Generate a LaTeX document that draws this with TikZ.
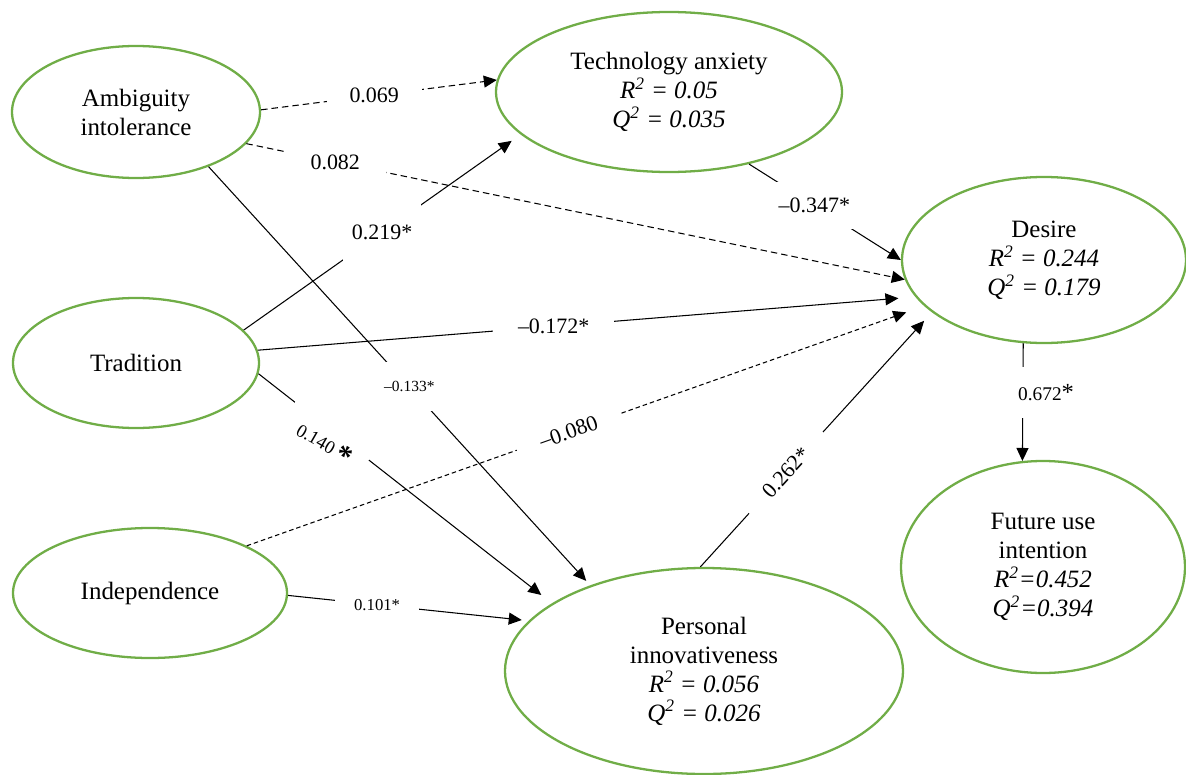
\documentclass[tikz,border=0pt]{standalone}
\usepackage{fontspec}
\setmainfont{Liberation Serif}
\usepackage{tikz}
\usetikzlibrary{shapes.geometric, arrows.meta}
\definecolor{SEMGreen}{RGB}{112,173,71}

\begin{document}
\begin{tikzpicture}[
    latent/.style={ellipse, draw=SEMGreen, line width=1.3pt, inner sep=0pt,
                   align=center, font=\fontsize{14.2}{16.5}\selectfont},
    arr/.style={-{Triangle[length=0.26cm, width=0.24cm]}, line width=0.6pt},
    ns/.style={arr, dash pattern=on 0.13cm off 0.08cm},
    lbl/.style={fill=white, inner xsep=3pt, inner ysep=3pt,
                font=\fontsize{12.5}{14}\selectfont},
    slbl/.style={lbl, font=\fontsize{9.5}{11}\selectfont}
  ]
  \useasboundingbox (0,0) rectangle (23.72,-15.5);

  % exogenous constructs
  \node[latent, minimum width=4.96cm, minimum height=2.64cm] (amb)   at (2.72,-2.24)  {Ambiguity\\intolerance};
  \node[latent, minimum width=4.92cm, minimum height=2.6cm]  (trad)  at (2.72,-7.26)  {Tradition};
  \node[latent, minimum width=5.48cm, minimum height=2.6cm]  (indep) at (3.0,-11.86)  {Independence};

  % endogenous constructs
  \node[latent, minimum width=6.92cm, minimum height=3.2cm]  (tech)   at (13.38,-1.84) {Technology anxiety\\{\itshape R\textsuperscript{2} = 0.05}\\{\itshape Q\textsuperscript{2} = 0.035}};
  \node[latent, minimum width=5.68cm, minimum height=3.32cm] (desire) at (20.88,-5.2)  {Desire\\{\itshape R\textsuperscript{2} = 0.244}\\{\itshape Q\textsuperscript{2} = 0.179}};
  \node[latent, minimum width=7.96cm, minimum height=4.12cm] (pi)     at (14.08,-13.42) {Personal\\innovativeness\\{\itshape R\textsuperscript{2} = 0.056}\\{\itshape Q\textsuperscript{2} = 0.026}};
  \node[latent, minimum width=5.68cm, minimum height=4.24cm] (future) at (20.86,-11.34) {Future use\\intention\\{\itshape R\textsuperscript{2}=0.452}\\{\itshape Q\textsuperscript{2}=0.394}};

  % paths from ambiguity intolerance
  \draw[ns] (amb.1) -- node[lbl, pos=0.48, inner xsep=13pt] {0.069} (tech.176);
  \draw[ns] (amb.-16) -- node[lbl, pos=0.135, inner xsep=15pt] {0.082} (desire.188);
  \draw[arr, shorten >=0.12cm] (amb.-37) -- node[slbl, pos=0.526, inner xsep=1pt, inner ysep=11pt, font=\fontsize{8.8}{10}\selectfont] {--0.133*} (pi.143);

  % paths from tradition
  \draw[arr, shorten >=0.22cm] (trad.17) -- node[lbl, pos=0.5, inner xsep=5pt, inner ysep=12pt] {0.219*} (tech.196);
  \draw[arr, shorten >=0.34cm] (trad.6) -- node[lbl, pos=0.45, inner xsep=14pt] {--0.172*} (desire.196);
  \draw[arr, shorten >=0.27cm] (trad.-5) -- node[slbl, pos=0.25, rotate=-30, yshift=-0.3cm, inner xsep=9pt, inner ysep=10pt, font=\fontsize{10.5}{12}\selectfont] {0.140 \raisebox{-0.45ex}{\fontsize{17}{17}\selectfont\textbf{*}}} (pi.156);

  % paths from independence
  \draw[ns, dash pattern=on 0.09cm off 0.06cm, shorten >=0.38cm] (indep.26) -- node[lbl, pos=0.475, sloped, inner xsep=14pt, inner ysep=2pt] {--0.080} (desire.201);
  \draw[arr, shorten >=0.14cm] (indep.-1) -- node[slbl, pos=0.37, inner xsep=11pt] {0.101*} (pi.164);

  % paths to desire and intention
  \draw[arr] (tech.-42) -- node[lbl, pos=0.43, inner xsep=2pt, inner ysep=9pt] {--0.347*} (desire.180);
  \draw[arr, shorten >=0.23cm] (pi.92) -- node[lbl, pos=0.37, sloped, inner xsep=14pt, inner ysep=2pt] {0.262*} (desire.205);
  \draw[arr] (desire.256) -- node[slbl, pos=0.42, anchor=west, xshift=-0.14cm, inner xsep=1pt, inner ysep=10pt, font=\fontsize{11}{12}\selectfont] {0.672{\fontsize{14}{14}\selectfont*}} (future.101);
\end{tikzpicture}
\end{document}
